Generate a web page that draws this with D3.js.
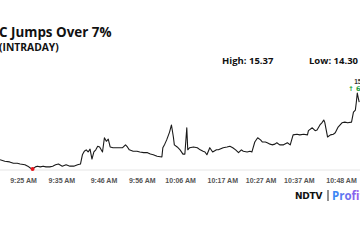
<!DOCTYPE html>
<html>
<head>
<meta charset="utf-8">
<script src="https://cdn.jsdelivr.net/npm/d3@7"></script>
<style>
  body { margin: 0; background: #fff; overflow: hidden; }
  svg { display: block; font-family: "Open Sans", sans-serif; }
</style>
</head>
<body>
<div id="chart"></div>
<script>
var width = 360,
    height = 240;

var title = "C Jumps Over 7%",
    subtitle = "(INTRADAY)";

var high = 15.37,
    low = 14.30;

var lastLabel = "15.24",
    changeLabel = "\u2191 6.13%";

var tickLabels = ["9:25 AM", "9:35 AM", "9:46 AM", "9:56 AM", "10:06 AM",
                  "10:17 AM", "10:27 AM", "10:37 AM", "10:48 AM"];

var times = [
  "9:19:00", "9:20:15", "9:21:30", "9:22:30", "9:23:30", "9:24:15", "9:25:30", "9:26:15",
  "9:27:00", "9:27:30", "9:28:15", "9:28:45", "9:29:30", "9:30:15", "9:31:00", "9:32:00",
  "9:32:45", "9:33:30", "9:34:15", "9:35:15", "9:36:15", "9:37:15", "9:38:15", "9:39:15",
  "9:40:00", "9:40:30", "9:41:00", "9:41:30", "9:42:00", "9:42:30", "9:43:00", "9:43:30",
  "9:44:00", "9:44:30", "9:45:00", "9:45:45", "9:46:15", "9:46:45", "9:47:15", "9:47:45",
  "9:48:30", "9:49:45", "9:51:00", "9:51:45", "9:52:15", "9:52:45", "9:53:45", "9:54:45",
  "9:55:30", "9:56:30", "9:57:30", "9:58:15", "9:59:00", "10:00:00", "10:01:15", "10:01:30",
  "10:02:00", "10:02:30", "10:03:15", "10:03:45", "10:04:15", "10:04:30", "10:05:15", "10:06:00",
  "10:06:45", "10:07:15", "10:07:45", "10:08:00", "10:08:30", "10:09:30", "10:10:30", "10:11:15",
  "10:12:00", "10:12:30", "10:13:00", "10:13:45", "10:14:30", "10:15:30", "10:16:00", "10:17:15",
  "10:18:15", "10:19:00", "10:19:45", "10:20:30", "10:21:15", "10:22:00", "10:22:30", "10:23:30",
  "10:24:15", "10:24:45", "10:25:30", "10:26:15", "10:27:00", "10:27:30", "10:28:15", "10:28:45",
  "10:29:30", "10:30:00", "10:30:45", "10:31:15", "10:32:00", "10:33:00", "10:34:00", "10:34:45",
  "10:35:30", "10:36:30", "10:37:15", "10:38:15", "10:39:15", "10:39:30", "10:40:30", "10:41:15",
  "10:41:45", "10:42:30", "10:43:00", "10:43:30", "10:43:45", "10:44:30", "10:45:15", "10:46:00",
  "10:46:30", "10:47:15", "10:48:15", "10:49:00", "10:49:45", "10:50:45", "10:51:15", "10:51:45",
  "10:52:00", "10:52:15", "10:52:30", "10:52:45"
];

var prices = [
  14.43, 14.41, 14.40, 14.38, 14.38, 14.37, 14.36, 14.34,
  14.31, 14.30, 14.33, 14.34, 14.33, 14.34, 14.33, 14.33,
  14.34, 14.36, 14.37, 14.34, 14.36, 14.34, 14.34, 14.36,
  14.37, 14.50, 14.55, 14.57, 14.54, 14.58, 14.44, 14.54,
  14.57, 14.62, 14.61, 14.54, 14.74, 14.69, 14.72, 14.61,
  14.60, 14.60, 14.60, 14.64, 14.61, 14.57, 14.55, 14.55,
  14.54, 14.53, 14.53, 14.51, 14.50, 14.48, 14.47, 14.60,
  14.65, 14.71, 14.82, 14.92, 14.75, 14.64, 14.61, 14.57,
  14.51, 14.51, 14.88, 14.57, 14.60, 14.61, 14.60, 14.57,
  14.55, 14.54, 14.50, 14.60, 14.54, 14.57, 14.57, 14.60,
  14.61, 14.62, 14.60, 14.57, 14.53, 14.57, 14.55, 14.54,
  14.55, 14.54, 14.68, 14.74, 14.71, 14.68, 14.68, 14.67,
  14.65, 14.64, 14.65, 14.67, 14.64, 14.64, 14.67, 14.64,
  14.78, 14.79, 14.78, 14.79, 14.78, 14.84, 14.88, 14.84,
  14.85, 14.92, 14.95, 14.99, 14.96, 14.75, 14.78, 14.79,
  14.81, 14.89, 14.95, 14.96, 14.95, 14.96, 15.10, 15.13,
  15.24, 15.37, 15.30, 15.24
];

var parseTime = d3.timeParse("%H:%M:%S"),
    parseTick = d3.timeParse("%I:%M %p");

var data = times.map(function(t, i) {
  return { time: parseTime(t), price: prices[i] };
});

var svg = d3.select("#chart").append("svg")
    .attr("width", width)
    .attr("height", height);

var x = d3.scaleTime()
    .domain([parseTick("9:25 AM"), parseTick("10:48 AM")])
    .range([23, 341]);

var y = d3.scaleLinear()
    .domain([low, high])
    .range([169, 93]);

// titles
svg.append("text")
    .attr("x", -1).attr("y", 37)
    .style("font-size", "13.4px").style("font-weight", 700).style("fill", "#111")
    .text(title);

svg.append("text")
    .attr("x", -1).attr("y", 51)
    .style("font-size", "10.3px").style("font-weight", 700).style("fill", "#111")
    .text(subtitle);

svg.append("text")
    .attr("x", 222).attr("y", 64)
    .style("font-size", "9.5px").style("font-weight", 700).style("fill", "#111")
    .text("High: " + d3.format(".2f")(high));

svg.append("text")
    .attr("x", 309).attr("y", 64)
    .style("font-size", "9.5px").style("font-weight", 700).style("fill", "#111")
    .text("Low: " + d3.format(".2f")(low));

// x axis
var xAxis = d3.axisBottom(x)
    .tickValues(tickLabels.map(parseTick))
    .tickSize(0)
    .tickPadding(8)
    .tickFormat(function(d, i) { return tickLabels[i]; });

var gx = svg.append("g")
    .attr("transform", "translate(0,170)")
    .call(xAxis);
gx.select(".domain").remove();
gx.selectAll("text")
    .style("font-family", "Arial, 'Liberation Sans', sans-serif")
    .style("font-size", "7px").style("font-weight", 700).style("fill", "#555");

svg.append("line")
    .attr("x1", 0).attr("x2", width)
    .attr("y1", 170).attr("y2", 170)
    .style("stroke", "#e6e6e6").style("stroke-width", 1);

// price line
var line = d3.line()
    .x(function(d) { return x(d.time); })
    .y(function(d) { return y(d.price); });

svg.append("path")
    .datum(data)
    .attr("d", line)
    .style("fill", "none")
    .style("stroke", "#1a1a1a")
    .style("stroke-width", 1.1)
    .style("stroke-linejoin", "round");

// day low marker
var lowPoint = data.filter(function(d) { return d.price === low; })[0];
svg.append("circle")
    .attr("cx", x(lowPoint.time)).attr("cy", y(lowPoint.price))
    .attr("r", 2)
    .style("fill", "#e8141b");

// last price label
var last = data[data.length - 1];
svg.append("text")
    .attr("x", x(last.time) - 5).attr("y", 84)
    .style("font-family", "Arial, 'Liberation Sans', sans-serif")
    .style("font-size", "6.5px").style("font-weight", 700).style("fill", "#333")
    .text(lastLabel);
svg.append("text")
    .attr("x", x(last.time) - 11).attr("y", 91)
    .style("font-family", "'DejaVu Sans', sans-serif")
    .style("font-size", "6.5px").style("font-weight", 700).style("fill", "#1e9e3a")
    .text(changeLabel);

// logo
var logo = svg.append("g").attr("transform", "translate(295,199)");
logo.append("text")
    .attr("x", 0).attr("y", 0)
    .style("font-family", "'DejaVu Sans', sans-serif")
    .style("font-size", "9px").style("font-weight", 700).style("fill", "#111")
    .style("letter-spacing", "-0.2px")
    .text("NDTV");
logo.append("line")
    .attr("x1", 33).attr("x2", 33).attr("y1", -9).attr("y2", 2)
    .style("stroke", "#222").style("stroke-width", 1);

var grad = svg.append("defs").append("linearGradient")
    .attr("id", "pg").attr("x1", "0%").attr("x2", "100%");
grad.append("stop").attr("offset", "0%").attr("stop-color", "#2f8cf5");
grad.append("stop").attr("offset", "100%").attr("stop-color", "#b04ee8");

logo.append("text")
    .attr("x", 37).attr("y", 1)
    .style("font-family", "'Open Sans', sans-serif")
    .style("font-size", "11.5px").style("font-weight", 700).style("fill", "url(#pg)")
    .text("Profit");
</script>
</body>
</html>
